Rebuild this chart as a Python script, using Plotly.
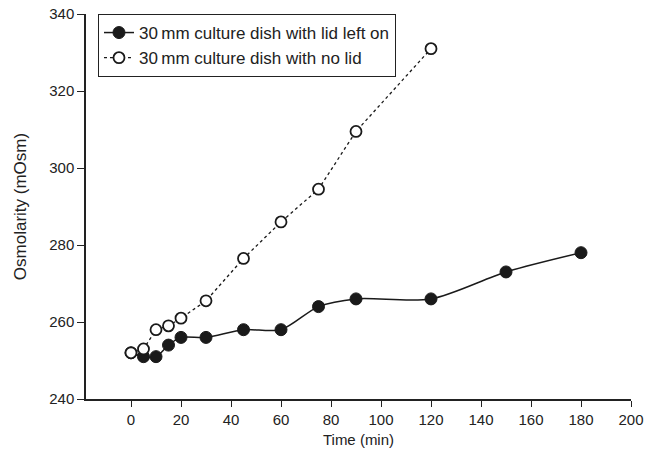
import plotly.graph_objects as go

time_lid = [0, 5, 10, 15, 20, 30, 45, 60, 75, 90, 120, 150, 180]
osm_lid = [252, 251, 251, 254, 256, 256, 258, 258, 264, 266, 266, 273, 278]
time_nolid = [0, 5, 10, 15, 20, 30, 45, 60, 75, 90, 120]
osm_nolid = [252, 253, 258, 259, 261, 265.5, 276.5, 286, 294.5, 309.5, 331]

x_ticks = [0, 20, 40, 60, 80, 100, 120, 140, 160, 180, 200]
y_ticks = [240, 260, 280, 300, 320, 340]

fig = go.Figure()
fig.add_trace(go.Scatter(
    x=time_lid, y=osm_lid, mode="lines+markers",
    name="30\u2009mm culture dish with lid left on",
    line=dict(color="#1a1a1a", width=1.5, shape="spline", smoothing=0.8),
    marker=dict(symbol="circle", size=12, color="#1a1a1a", line=dict(color="#1a1a1a", width=1)),
))
fig.add_trace(go.Scatter(
    x=time_nolid, y=osm_nolid, mode="lines+markers",
    name="30\u2009mm culture dish with no lid",
    line=dict(color="#1a1a1a", width=1.3, dash="dot"),
    marker=dict(symbol="circle", size=11, color="white", line=dict(color="#1a1a1a", width=1.8)),
))

fam = "Liberation Sans, Arial, sans-serif"
font = dict(family=fam, size=15, color="#222")
fig.update_layout(
    width=659, height=455,
    margin=dict(l=86, r=28, t=14, b=56, autoexpand=False),
    plot_bgcolor="white", paper_bgcolor="white",
    font=font,
    showlegend=True,
    legend=dict(x=0.022, y=1.0, xanchor="left", yanchor="top",
                bordercolor="#222", borderwidth=1, bgcolor="white",
                font=dict(family=fam, size=17, color="#222"),
                tracegroupgap=0),
    xaxis=dict(range=[-18, 200], tickvals=x_ticks, ticks="outside", ticklen=6,
               tickcolor="#222", showline=True, linecolor="#222", linewidth=1.5,
               showgrid=False, zeroline=False, automargin=False,
               title=dict(text="Time (min)", font=dict(family=fam, size=15, color="#222"), standoff=8)),
    yaxis=dict(range=[240, 340], tickvals=y_ticks, ticks="outside", ticklen=7,
               tickcolor="#222", showline=True, linecolor="#222", linewidth=1.5,
               showgrid=False, zeroline=False, automargin=False,
               title=dict(text="Osmolarity (mOsm)", font=dict(family=fam, size=17, color="#222"), standoff=18)),
)
fig.write_html("out.html", config={"displayModeBar": False},
               post_script="document.body.style.margin='0';")
